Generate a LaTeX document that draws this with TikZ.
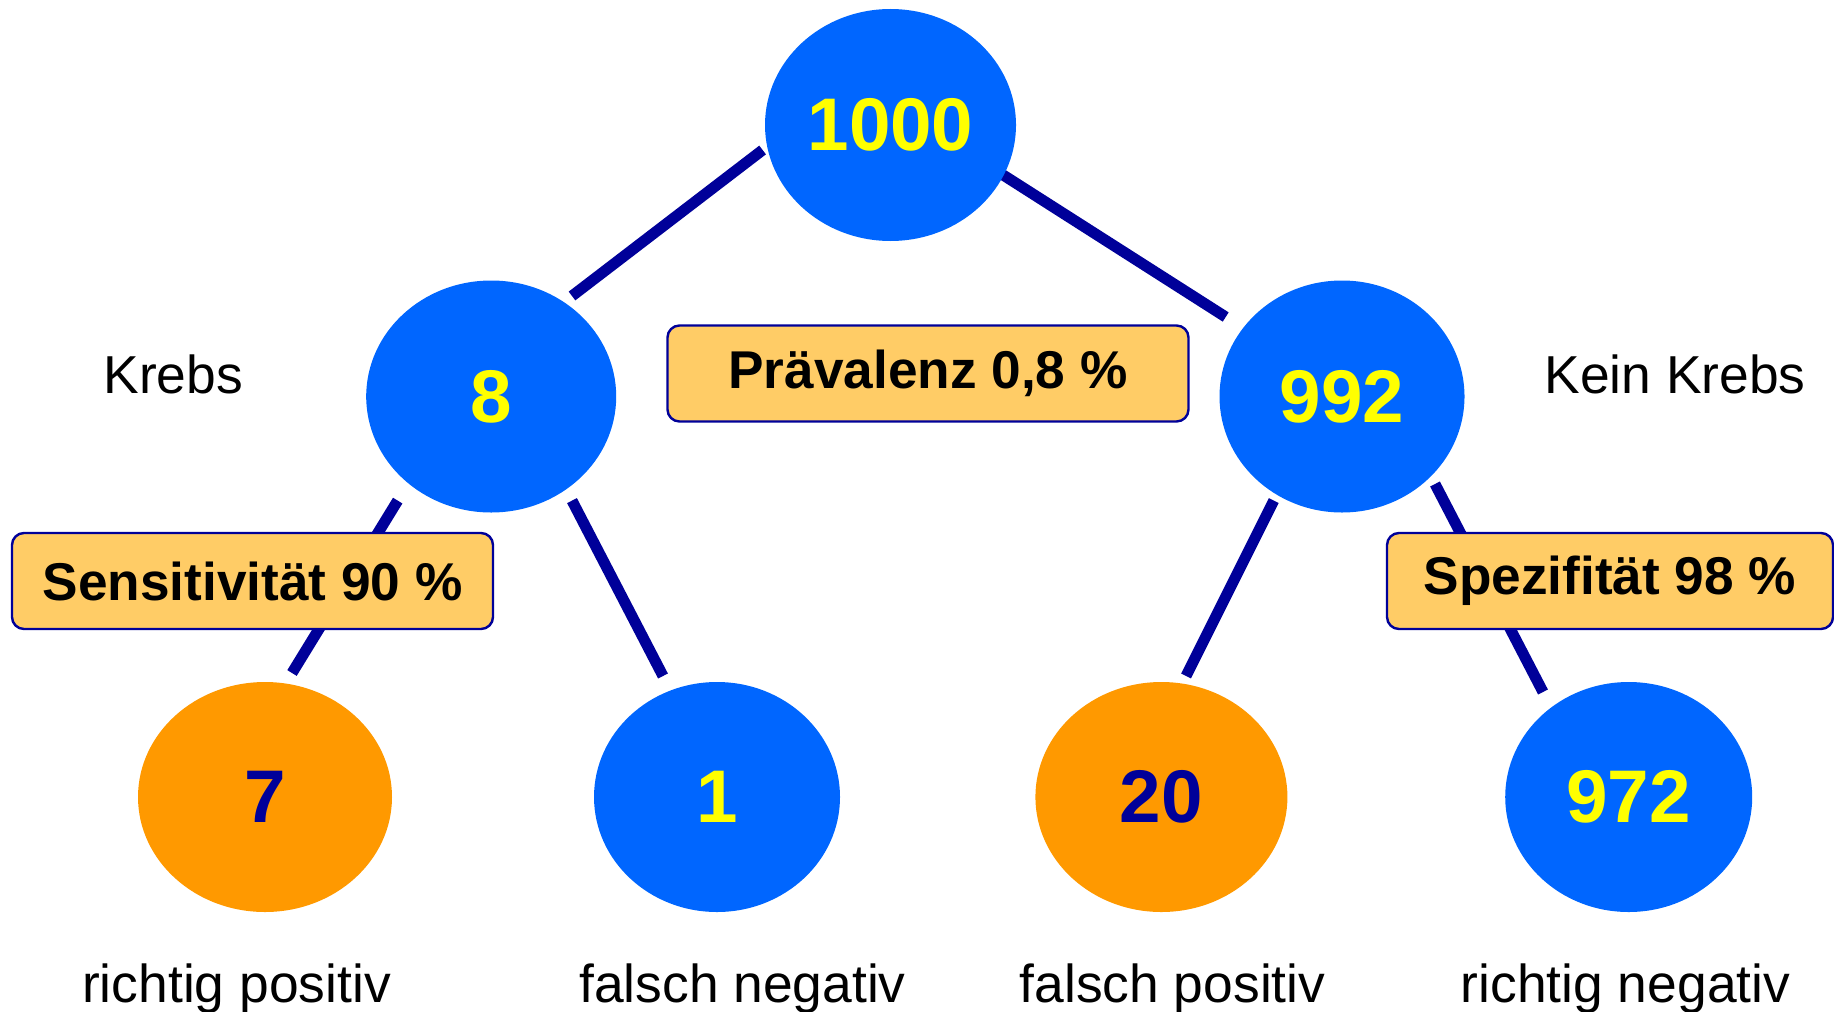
\documentclass[tikz,border=0pt]{standalone}
\usepackage{fontspec}
\setmainfont{Liberation Sans}
\usetikzlibrary{shapes.geometric}

\definecolor{nodeblue}{HTML}{0066FF}
\definecolor{nodeorange}{HTML}{FF9900}
\definecolor{numyellow}{HTML}{FFFF00}
\definecolor{navy}{HTML}{000099}
\definecolor{boxfill}{HTML}{FFCC66}

\tikzset{
  count/.style={ellipse, inner sep=0pt, draw=none,
    font=\fontsize{37.3}{40}\selectfont\bfseries},
  bluecount/.style={count, fill=nodeblue, text=numyellow},
  orangecount/.style={count, fill=nodeorange, text=navy},
  ratebox/.style={rectangle, rounded corners=6pt, draw=navy, line width=1.2pt,
    fill=boxfill, inner sep=0pt, minimum height=48pt,
    font=\fontsize{26.6}{30}\selectfont\bfseries},
  caption/.style={inner sep=0pt, font=\fontsize{26.7}{30}\selectfont},
  branch/.style={draw=navy, line width=5.5pt}
}

\begin{document}
\begin{tikzpicture}[x=0.5pt, y=-0.5pt]
\useasboundingbox (0,0) rectangle (1834,1011);

% branch segments (drawn first, the rate boxes lie over them)
\coordinate (t1) at (762.6,150);   \coordinate (t2) at (572,296);
\coordinate (t3) at (1000,173);    \coordinate (t4) at (1225.7,317);
\coordinate (l1) at (397.7,500.6); \coordinate (l2) at (292,673);
\coordinate (l3) at (572,500.6);   \coordinate (l4) at (663,676);
\coordinate (r1) at (1273.7,500.6);\coordinate (r2) at (1186,676);
\coordinate (r3) at (1435,484);    \coordinate (r4) at (1543,692);
\draw[branch] (t1) -- (t2);
\draw[branch] (t3) -- (t4);
\draw[branch] (l1) -- (l2);
\draw[branch] (l3) -- (l4);
\draw[branch] (r1) -- (r2);
\draw[branch] (r3) -- (r4);

% tree of counts
\node[bluecount, minimum width=125.5pt, minimum height=116pt] (n1000) at (890.5,125) {1000};
\node[bluecount, minimum width=125pt, minimum height=116pt] (n8) at (491.2,396.5) {8};
\node[bluecount, minimum width=122.5pt, minimum height=116pt] (n992) at (1342,396.5) {992};
\node[orangecount, minimum width=127pt, minimum height=115pt] (n7) at (265,797) {7};
\node[bluecount, minimum width=123pt, minimum height=115pt] (n1) at (717,797) {1};
\node[orangecount, minimum width=126pt, minimum height=115pt] (n20) at (1161.4,797) {20};
\node[bluecount, minimum width=123.5pt, minimum height=115pt] (n972) at (1628.7,797) {972};

% rates
\node[ratebox, minimum width=260.5pt] (prev) at (928,373.5) {Prävalenz 0,8 \%};
\node[ratebox, minimum width=240.5pt] (sens) at (252.5,581) {Sensitivität 90 \%};
\node[ratebox, minimum width=223pt] (spez) at (1610,581) {Spezifität 98 \%};

% group captions
\node[caption, anchor=base west] (krebs) at (103,393) {Krebs};
\node[caption, anchor=base west] (keinkrebs) at (1544,393) {Kein Krebs};

% outcome captions
\node[caption, anchor=base] (rp) at (236.5,1002) {richtig positiv};
\node[caption, anchor=base] (fn) at (742.5,1002) {falsch negativ};
\node[caption, anchor=base] (fp) at (1172.5,1002) {falsch positiv};
\node[caption, anchor=base] (rn) at (1625.5,1002) {richtig negativ};
\end{tikzpicture}
\end{document}
